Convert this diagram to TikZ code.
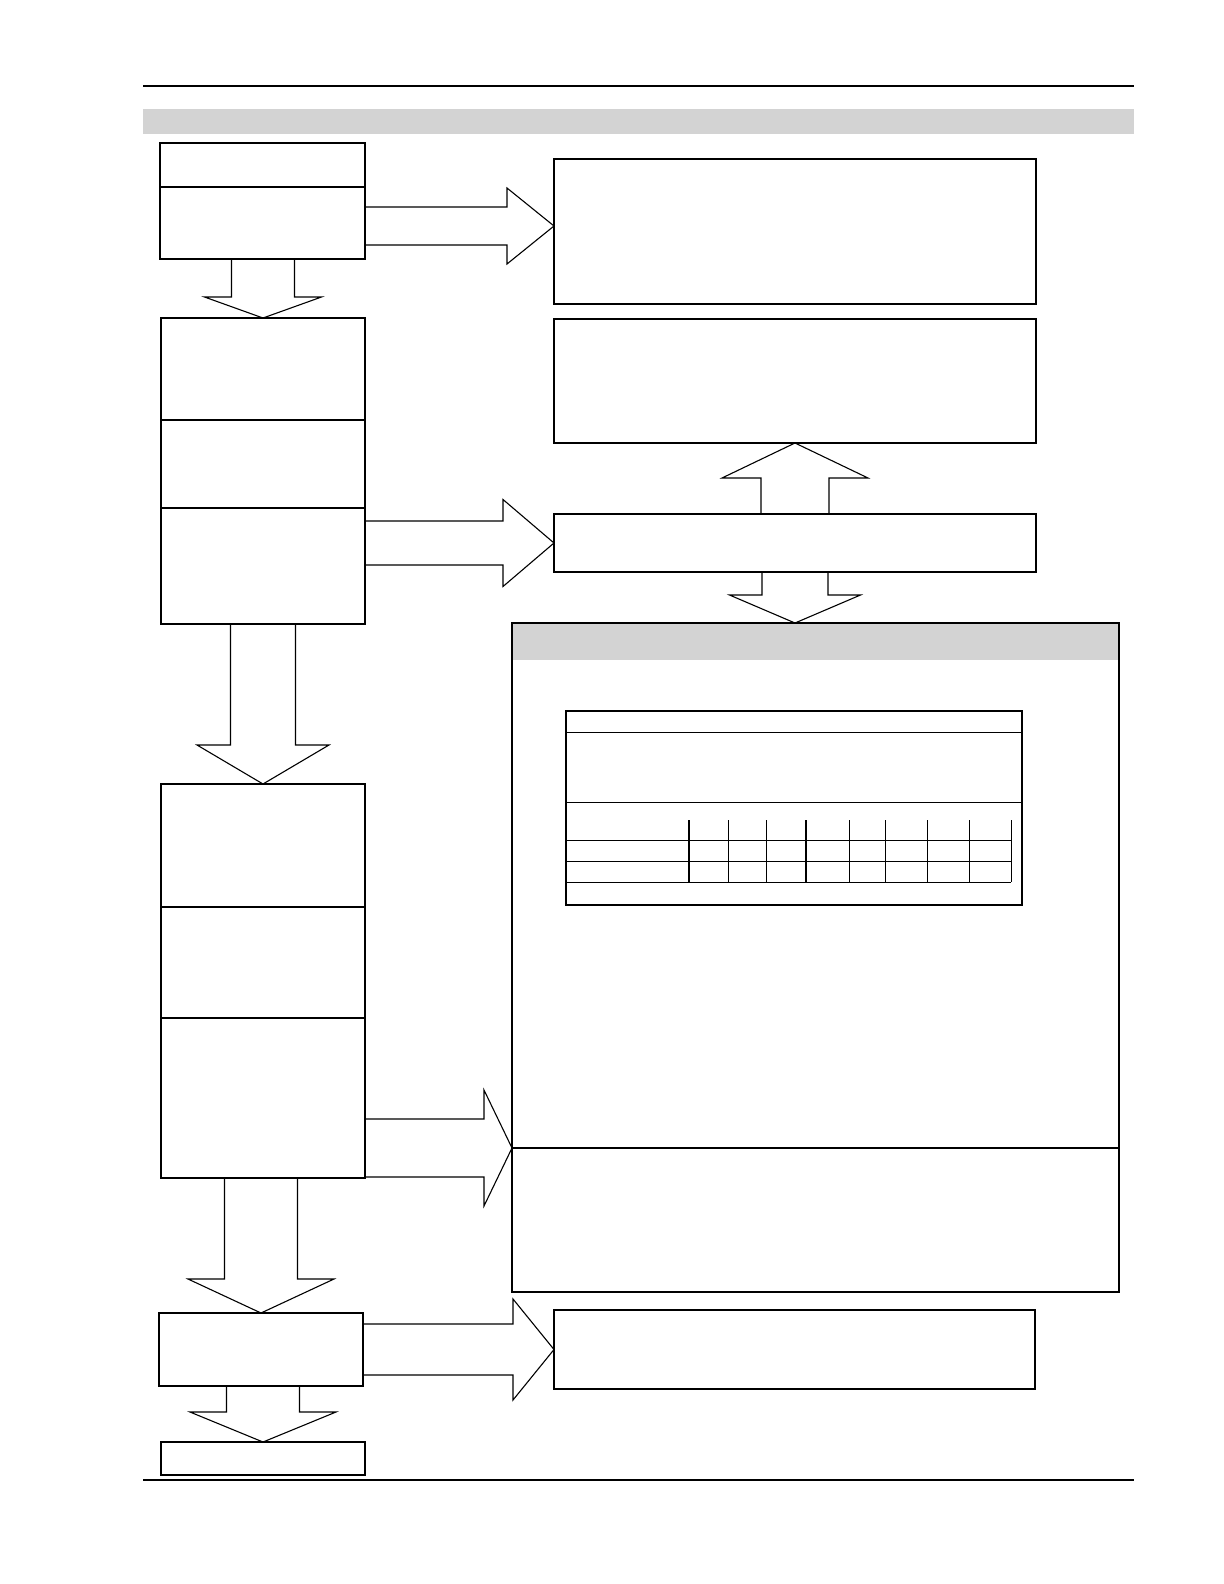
\documentclass[tikz,border=0pt]{standalone}
\usepackage{tikz}
\usetikzlibrary{calc, positioning}
\definecolor{bandgray}{RGB}{211,211,211}
\tikzset{box/.style={rectangle,draw,line width=0.7pt,inner sep=0pt,outer sep=0pt,anchor=north west},
  cell/.style 2 args={minimum width=#1*0.5pt,minimum height=#2*0.5pt},
  blk/.style={draw,line width=0.55pt,line join=miter}}
% block arrows: #1 tail node, #2 tip, #3 half body, #4 half head, #5 head length
\newcommand{\rblock}[5]{\draw[blk] ($(#1.east |- #2)+(0,-#3)$) -- ($(#2)+(-#5,-#3)$) -- ($(#2)+(-#5,-#4)$) -- (#2)
  -- ($(#2)+(-#5,#4)$) -- ($(#2)+(-#5,#3)$) -- ($(#1.east |- #2)+(0,#3)$);}
\newcommand{\dblock}[5]{\draw[blk] ($(#1.south -| #2)+(-#3,0)$) -- ($(#2)+(-#3,-#5)$) -- ($(#2)+(-#4,-#5)$) -- (#2)
  -- ($(#2)+(#4,-#5)$) -- ($(#2)+(#3,-#5)$) -- ($(#1.south -| #2)+(#3,0)$);}
\newcommand{\ublock}[5]{\draw[blk] ($(#1.north -| #2)+(-#3,0)$) -- ($(#2)+(-#3,#5)$) -- ($(#2)+(-#4,#5)$) -- (#2)
  -- ($(#2)+(#4,#5)$) -- ($(#2)+(#3,#5)$) -- ($(#1.north -| #2)+(#3,0)$);}

\begin{document}
\begin{tikzpicture}[x=0.5pt,y=-0.5pt]
\useasboundingbox (0,0) rectangle (1224,1584);
% page rules and band
\draw[line width=1pt] (143,86) -- (1134,86);
\fill[bandgray] (143,109) rectangle (1134,134);
\draw[line width=1pt] (143,1480) -- (1134,1480);

% left column
\node[box, cell={205}{44}] (a1) at (160,143) {};
\node[box, cell={205}{72}, below=0pt of a1] (a2) {};
\node[box, cell={204}{102}] (b1) at (161,318) {};
\node[box, cell={204}{88}, below=0pt of b1] (b2) {};
\node[box, cell={204}{116}, below=0pt of b2] (b3) {};
\node[box, cell={204}{123}] (d1) at (161,784) {};
\node[box, cell={204}{111}, below=0pt of d1] (d2) {};
\node[box, cell={204}{160}, below=0pt of d2] (d3) {};
\draw[line width=1.2pt] (d2.north west) -- (d2.north east);
\node[box, cell={204}{73}] (e) at (159,1313) {};
\node[box, cell={204}{33}] (f) at (161,1442) {};

% right column
\node[box, cell={482}{145}] (r1) at (554,159) {};
\draw[line width=1.2pt] (r1.south west) -- (r1.south east);
\node[box, cell={482}{124}] (r2) at (554,319) {};
\node[box, cell={482}{58}] (r3) at (554,514) {};
\node[box, cell={607}{525}, line width=0.6pt, path picture={\fill[bandgray] (path picture bounding box.north west) rectangle ([yshift=-18.5pt]path picture bounding box.north east);}] (c1) at (512,623) {};
\node[box, cell={607}{144}, line width=0.6pt, below=0pt of c1] (c2) {};
\draw[line width=1.2pt] (c2.north west) -- (c2.north east);
\node[box, cell={481}{79}] (r4) at (554,1310) {};

% table inside c1
\node[box, cell={456}{194}, line width=1.2pt] (tbl) at (566,711) {};
\draw[line width=0.5pt] (566,732) -- (1022,732) (566,802) -- (1022,802);
\foreach \y in {840,861,882} \draw[line width=0.5pt] (566,\y) -- (1011,\y);
\foreach \x in {728,766,849,885,927,969,1011} \draw[line width=0.5pt] (\x,820) -- (\x,882);
\foreach \x in {689,806} \draw[line width=1.1pt] (\x,820) -- (\x,882);

% tips
\coordinate (t1) at ($(r1.west)+(0,-5.5)$);
\coordinate (t2) at (r2.south);
\coordinate (t3) at (c1.north -| r3.south);
\coordinate (t4) at (c2.north west);

% arrows
\rblock{a2}{t1}{19}{38}{47}
\rblock{b3}{r3.west}{22}{43.5}{51}
\rblock{d3}{t4}{29}{58}{28}
\rblock{e}{r4.west}{25.5}{50.5}{41}
\dblock{a2}{b1.north}{31.5}{58.5}{21}
\dblock{b3}{d1.north}{32.5}{66}{39}
\dblock{d3}{e.north}{36.5}{73}{34}
\dblock{e}{f.north}{36.5}{73}{30}
\ublock{r3}{t2}{34}{73}{35}
\dblock{r3}{t3}{33}{65.5}{28}
\end{tikzpicture}
\end{document}
